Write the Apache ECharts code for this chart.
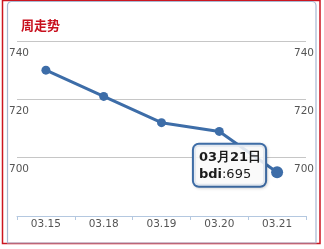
<!DOCTYPE html>
<html>
<head>
<meta charset="utf-8">
<script src="https://cdn.jsdelivr.net/npm/echarts@6/dist/echarts.min.js"></script>
<style>
  html, body { margin: 0; padding: 0; background: #fff; }
  #chart { width: 324px; height: 249px; }
</style>
</head>
<body>
<div id="chart"></div>
<script>
// Weekly BDI trend
const titleText = '周走势';
const seriesName = 'bdi';
const dates = ['03.15', '03.18', '03.19', '03.20', '03.21'];
const dateLabels = ['03月15日', '03月18日', '03月19日', '03月20日', '03月21日'];
const bdiValues = [730, 721, 712, 709, 695];
const yMin = 680, yMax = 740, yStep = 20;
const highlightIndex = 4;

const lineColor = '#3d6da8';
const labelFont = 'DejaVu Sans';

const chart = echarts.init(document.getElementById('chart'), null, { renderer: 'canvas' });

const yLabelCommon = {
  color: '#555',
  fontFamily: labelFont,
  fontSize: 10.5,
  verticalAlign: 'top',
  lineHeight: 12,
  padding: [6, 0, 0, 0],
  showMinLabel: false,
  margin: 8
};

const points = bdiValues.map((v, i) => {
  if (i !== highlightIndex) return v;
  return {
    value: v,
    symbolSize: 12,
    label: {
      show: true,
      position: 'left',
      distance: 8,
      offset: [2, -7],
      align: 'right',
      formatter: () => '{d|' + dateLabels[i] + '}\n{n|' + seriesName + '}{v|:' + v + '}',
      backgroundColor: 'rgba(255,255,255,0.85)',
      borderColor: '#3f6ea8',
      borderWidth: 2,
      borderRadius: 5,
      padding: [4, 4, 3, 5],
      shadowColor: 'rgba(0,0,0,0.15)',
      shadowBlur: 3,
      shadowOffsetX: 1,
      shadowOffsetY: 1,
      rich: {
        d: { fontFamily: labelFont, fontWeight: 'bold', fontSize: 13, color: '#1a1a1a', lineHeight: 17, align: 'left' },
        n: { fontFamily: labelFont, fontWeight: 'bold', fontSize: 13, color: '#1a1a1a', lineHeight: 17, align: 'left' },
        v: { fontFamily: labelFont, fontSize: 13, color: '#1a1a1a', lineHeight: 17, align: 'left' }
      }
    }
  };
});

chart.setOption({
  animation: false,
  backgroundColor: '#fff',
  title: {
    text: titleText,
    left: 16,
    top: 14,
    textStyle: { color: '#c8101e', fontSize: 13, fontWeight: 'bold', fontFamily: 'Noto Sans CJK SC' }
  },
  graphic: [
    {
      type: 'rect',
      shape: { x: 2.5, y: 0.5, width: 317.5, height: 243 },
      style: { fill: 'none', stroke: '#cc1520', lineWidth: 1.5 },
      silent: true
    },
    {
      type: 'rect',
      shape: { x: 7.5, y: 1.5, width: 308.5, height: 241.5, r: [4, 4, 0, 0] },
      style: { fill: 'none', stroke: '#a8b8d2', lineWidth: 1.2 },
      silent: true
    }
  ],
  grid: { left: 17, right: 18, top: 41, bottom: 33 },
  xAxis: {
    type: 'category',
    data: dates,
    boundaryGap: true,
    axisLine: { lineStyle: { color: '#b4c8e0', width: 1 } },
    axisTick: { show: true, length: 4, lineStyle: { color: '#b4c8e0' } },
    axisLabel: { color: '#555', fontFamily: labelFont, fontSize: 10.5, margin: 3 },
    splitLine: { show: false }
  },
  yAxis: [
    {
      type: 'value',
      min: yMin, max: yMax, interval: yStep,
      position: 'left',
      axisLine: { show: false },
      axisTick: { show: false },
      axisLabel: Object.assign({ align: 'left' }, yLabelCommon),
      splitLine: { lineStyle: { color: '#c6c6c6', width: 1 } }
    },
    {
      type: 'value',
      min: yMin, max: yMax, interval: yStep,
      position: 'right',
      axisLine: { show: false },
      axisTick: { show: false },
      axisLabel: Object.assign({ align: 'right' }, yLabelCommon),
      splitLine: { show: false }
    }
  ],
  series: [
    {
      name: seriesName,
      type: 'line',
      data: points,
      yAxisIndex: 0,
      symbol: 'circle',
      symbolSize: 9,
      lineStyle: { color: lineColor, width: 3 },
      itemStyle: { color: lineColor },
      z: 3
    }
  ]
});
</script>
</body>
</html>
